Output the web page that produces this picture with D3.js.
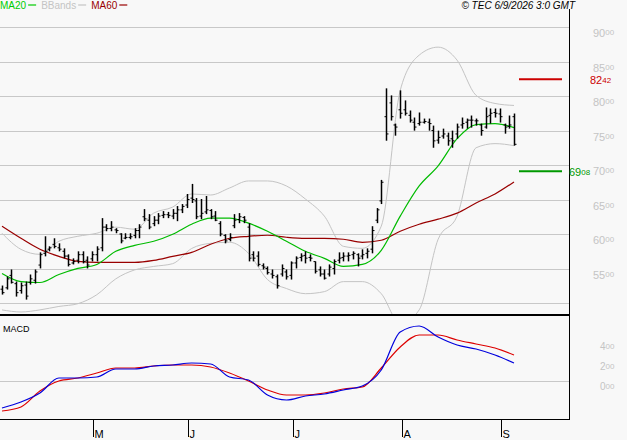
<!DOCTYPE html>
<html><head><meta charset="utf-8">
<script src="https://cdn.jsdelivr.net/npm/d3@7"></script>
<style>body{margin:0;background:#f8f8f8}svg{display:block;font-family:"Liberation Sans",Arial,sans-serif}</style>
</head><body><svg id="c" width="627" height="440"></svg>
<script>
const high=[5253,5384,5486,5311,5297,5311,5413,5486,5734,5967,5822,5938,5865,5792,5705,5647,5749,5749,5676,5749,5822,6230,6142,6186,6084,6011,6011,6011,6084,6142,6361,6288,6259,6303,6332,6320,6361,6405,6434,6580,6726,6521,6507,6551,6361,6332,6186,5997,6011,6288,6303,6259,6157,5749,5749,5574,5530,5486,5413,5559,5486,5603,5676,5720,5749,5705,5603,5530,5486,5559,5632,5734,5734,5734,5749,5720,5778,5792,6113,6376,6784,8111,8009,7600,8082,7936,7790,7688,7761,7673,7673,7571,7498,7527,7469,7498,7600,7688,7673,7717,7673,7600,7834,7819,7819,7819,7600,7717,7746];
const low=[5122,5195,5282,5093,5136,5049,5267,5282,5501,5676,5749,5792,5749,5647,5530,5559,5574,5574,5501,5603,5603,5749,6040,6040,6011,5865,5924,5924,5938,5938,6186,6069,6113,6142,6230,6230,6215,6186,6303,6376,6449,6215,6215,6288,6215,6186,5967,5865,5894,6084,6157,6157,5603,5603,5530,5486,5413,5355,5209,5384,5340,5340,5501,5603,5574,5603,5428,5384,5340,5384,5413,5574,5603,5603,5632,5530,5632,5647,5720,6157,6434,7352,7644,7425,7673,7717,7615,7498,7571,7600,7498,7250,7309,7382,7280,7250,7382,7527,7527,7542,7571,7425,7527,7600,7688,7615,7454,7527,7280];
const close=[5150,5350,5300,5150,5250,5100,5350,5450,5700,5750,5800,5820,5780,5680,5560,5600,5700,5600,5550,5700,5780,6100,6080,6100,6050,5900,5950,5960,6050,6100,6220,6100,6200,6260,6280,6270,6300,6350,6400,6500,6500,6250,6300,6350,6250,6200,6000,5900,5950,6200,6250,6200,5650,5650,5560,5520,5440,5400,5250,5500,5380,5580,5650,5680,5650,5650,5460,5420,5360,5520,5600,5650,5680,5690,5720,5650,5700,5750,6050,6350,6750,7450,7700,7550,7750,7750,7650,7550,7620,7630,7600,7350,7400,7450,7350,7350,7550,7600,7650,7650,7640,7500,7700,7750,7750,7700,7550,7580,7300];
const open=[5200,5220,5400,5280,5180,5260,5300,5330,5550,5720,5780,5850,5800,5750,5680,5580,5620,5700,5620,5640,5700,5800,6100,6080,6060,6000,5940,5950,5980,6050,6250,6200,6150,6200,6270,6280,6260,6300,6350,6420,6520,6480,6260,6320,6340,6260,6150,5980,5920,6120,6210,6240,6100,5700,5680,5540,5500,5420,5380,5420,5450,5400,5580,5660,5690,5660,5600,5480,5420,5420,5500,5620,5660,5680,5700,5700,5680,5720,5780,6200,6480,7700,7900,7580,7800,7800,7720,7620,7600,7620,7620,7500,7360,7420,7420,7380,7450,7580,7620,7650,7640,7580,7550,7720,7760,7740,7580,7560,7700];
const sampleIdx=[0,4,8,12,16,20,24,28,32,36,40,44,48,52,56,60,64,68,72,76,80,84,88,92,96,100,104,108];
const ma20=[5428,5311,5297,5413,5501,5559,5749,5836,5895,5997,6142,6230,6230,6157,6040,5895,5749,5647,5530,5559,5763,6259,6696,6988,7382,7586,7600,7542];
const ma60=[6113,5938,5778,5676,5603,5588,5588,5588,5617,5676,5734,5851,5938,5967,5982,5953,5938,5938,5924,5880,5909,6040,6142,6215,6303,6449,6580,6755];
const bbUp=[6011,5778,5705,5895,5967,6011,6099,6069,6303,6390,6580,6565,6667,6769,6769,6696,6507,6259,5822,5792,6113,8082,8592,8708,8519,8009,7892,7863];
const bbLo=[4900,4870,4900,4950,4990,5120,5350,5480,5530,5570,5790,5865,5880,5720,5340,5210,5135,5165,5310,5310,5135,4700,4900,5925,6260,7250,7310,7280];
const macd=[-270,-210,-120,30,30,40,120,120,150,160,180,170,40,10,-140,-190,-150,-130,-90,-50,110,490,550,440,360,320,260,180];
const signal=[-300,-260,-100,0,30,80,130,130,150,160,160,140,80,0,-90,-140,-140,-120,-80,-60,130,340,460,460,410,370,330,260];
const priceTicks=[9000,8500,8000,7500,7000,6500,6000,5500];
const macdTicks=[400,200,0];
const months=["M","J","J","A","S"];
const monthIdx=[19.2,39.2,61.4,84.4,105.3];
const lastMarks=[{v:8242,c:"#cc0000",lab:["82","42"],lx:590},{v:6908,c:"#009900",lab:["69","08"],lx:569}];

const svg=d3.select("#c");
const x=d3.scaleLinear().domain([0,108]).range([2,514]);
const y=d3.scaleLinear().domain([5000,9000]).range([303,27]);
const ym=d3.scaleLinear().domain([0,400]).range([381,341]);
const R=569;
svg.selectAll(".g").data(priceTicks.concat([5000])).join("line").attr("x1",0).attr("x2",R).attr("y1",d=>Math.round(y(d))+0.5).attr("y2",d=>Math.round(y(d))+0.5).attr("stroke","#c8c8c8");
svg.append("line").attr("x1",0).attr("x2",R).attr("y1",ym(0)+0.5).attr("y2",ym(0)+0.5).attr("stroke","#c8c8c8");
svg.append("defs").append("clipPath").attr("id","cp").append("rect").attr("x",0).attr("y",0).attr("width",R).attr("height",314);
const g=svg.append("g").attr("clip-path","url(#cp)");
const line=arr=>d3.line().x((d,i)=>x(sampleIdx[i])).y(d=>y(d)).curve(d3.curveMonotoneX)(arr);
g.append("path").attr("d",line(bbUp)).attr("fill","none").attr("stroke","#c4c4c4");
g.append("path").attr("d",line(bbLo)).attr("fill","none").attr("stroke","#c4c4c4");
g.append("path").attr("d",line(ma60)).attr("fill","none").attr("stroke","#990000").attr("stroke-width",1.2);
g.append("path").attr("d",line(ma20)).attr("fill","none").attr("stroke","#00bb00").attr("stroke-width",1.2);
high.forEach((h,i)=>{
  const xx=Math.round(x(i))+0.5;
  g.append("line").attr("x1",xx).attr("x2",xx).attr("y1",y(h)).attr("y2",y(low[i])).attr("stroke","#000").attr("stroke-width",1.5);
  g.append("line").attr("x1",xx-2).attr("x2",xx).attr("y1",y(open[i])).attr("y2",y(open[i])).attr("stroke","#000");
  g.append("line").attr("x1",xx).attr("x2",xx+2).attr("y1",y(close[i])).attr("y2",y(close[i])).attr("stroke","#000");
});
const ml=arr=>d3.line().x((d,i)=>x(sampleIdx[i])).y(d=>ym(d)).curve(d3.curveMonotoneX)(arr);
svg.append("path").attr("d",ml(signal)).attr("fill","none").attr("stroke","#dd0000").attr("stroke-width",1.2);
svg.append("path").attr("d",ml(macd)).attr("fill","none").attr("stroke","#0000dd").attr("stroke-width",1.2);
svg.append("line").attr("x1",0).attr("x2",R).attr("y1",315).attr("y2",315).attr("stroke","#000").attr("stroke-width",2);
svg.append("line").attr("x1",0).attr("x2",R).attr("y1",419.5).attr("y2",419.5).attr("stroke","#000");
svg.append("line").attr("x1",R+0.5).attr("x2",R+0.5).attr("y1",9).attr("y2",420).attr("stroke","#000");
priceTicks.forEach(v=>{const s=String(v);const t=svg.append("text").attr("x",593).attr("y",y(v)+10).attr("fill","#c4c4c4").attr("font-size",11);
  t.append("tspan").text(s.slice(0,2));t.append("tspan").attr("font-size",8).attr("dy",-2).text(s.slice(2));});
lastMarks.forEach(m=>{svg.append("line").attr("x1",519).attr("x2",562).attr("y1",y(m.v)).attr("y2",y(m.v)).attr("stroke",m.c).attr("stroke-width",2);
  const t=svg.append("text").attr("x",m.lx).attr("y",y(m.v)+5).attr("fill",m.c).attr("font-size",11);
  t.append("tspan").text(m.lab[0]);t.append("tspan").attr("font-size",8).attr("dy",-1).text(m.lab[1]);});
macdTicks.forEach(v=>{const s=v===0?"000":String(v);const t=svg.append("text").attr("x",600).attr("y",ym(v)+9).attr("fill","#c4c4c4").attr("font-size",10);
  t.append("tspan").text(s.slice(0,1));t.append("tspan").attr("font-size",8).attr("dy",-1).text(s.slice(1));});
months.forEach((m,i)=>{const xx=Math.round(x(monthIdx[i]))+0.5;
  svg.append("line").attr("x1",xx).attr("x2",xx).attr("y1",420).attr("y2",437).attr("stroke","#000");
  svg.append("text").attr("x",xx+1).attr("y",438).attr("font-size",11).text(m);});
svg.append("text").attr("x",3).attr("y",332).attr("font-size",9).text("MACD");
const lg=[["MA20","#00cc00"],["BBands","#c4c4c4"],["MA60","#990000"]];let lx=0;
lg.forEach(([t,c])=>{const tx=svg.append("text").attr("x",lx).attr("y",9).attr("font-size",10).attr("fill",c).text(t);
  const w=tx.node().getComputedTextLength();svg.append("line").attr("x1",lx+w+2).attr("x2",lx+w+10).attr("y1",5).attr("y2",5).attr("stroke",c).attr("stroke-width",1.2);lx+=w+15;});
svg.append("text").attr("x",575).attr("y",9).attr("text-anchor","end").attr("font-size",10).attr("font-style","italic").text("© TEC 6/9/2026 3:0 GMT");
</script></body></html>
